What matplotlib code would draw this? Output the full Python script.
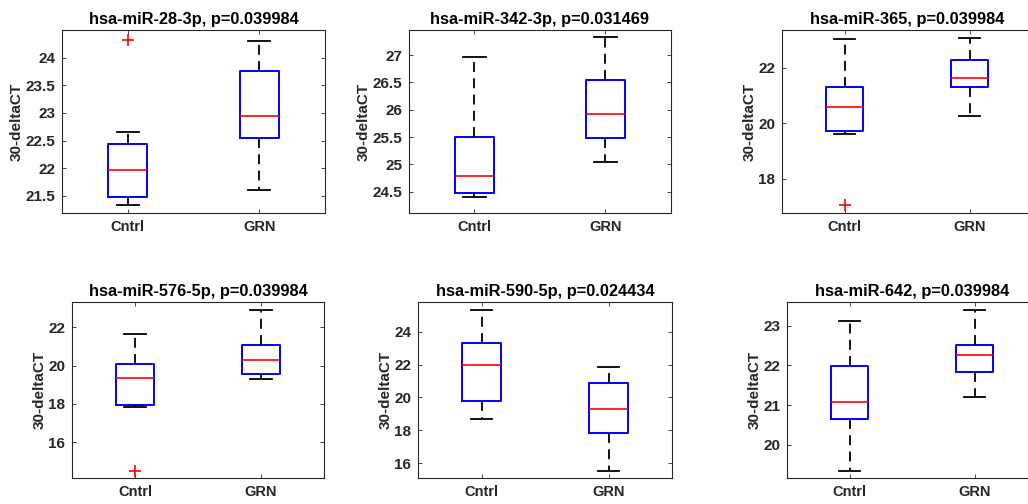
import matplotlib
matplotlib.use("Agg")
import matplotlib.pyplot as plt
from matplotlib.ticker import FormatStrFormatter

# Panel titles and p-values
mirnas = ["hsa-miR-28-3p", "hsa-miR-342-3p", "hsa-miR-365",
          "hsa-miR-576-5p", "hsa-miR-590-5p", "hsa-miR-642"]
pvals = ["0.039984", "0.031469", "0.039984", "0.039984", "0.024434", "0.039984"]
groups = ["Cntrl", "GRN"]

# Box statistics: whislo, q1, median, q3, whishi
cntrl_stats = [
    [21.33, 21.48, 21.96, 22.43, 22.66],
    [24.40, 24.48, 24.78, 25.51, 26.96],
    [19.61, 19.71, 20.58, 21.30, 23.03],
    [17.83, 17.95, 19.37, 20.07, 21.67],
    [18.70, 19.77, 21.98, 23.31, 25.30],
    [19.34, 20.66, 21.08, 21.98, 23.11],
]
grn_stats = [
    [21.61, 22.54, 22.95, 23.76, 24.31],
    [25.05, 25.49, 25.92, 26.54, 27.33],
    [20.27, 21.29, 21.61, 22.26, 23.08],
    [19.32, 19.55, 20.29, 21.09, 22.89],
    [15.55, 17.83, 19.32, 20.90, 21.84],
    [21.21, 21.83, 22.27, 22.51, 23.39],
]
cntrl_outliers = [[24.32], [], [17.06], [14.52], [], []]
grn_outliers = [[], [], [], [], [], []]

ylims = [(21.19, 24.50), (24.11, 27.46), (16.77, 23.35),
         (14.14, 23.32), (15.11, 25.80), (19.16, 23.60)]
yticks = [[21.5, 22, 22.5, 23, 23.5, 24],
          [24.5, 25, 25.5, 26, 26.5, 27],
          [18, 20, 22],
          [16, 18, 20, 22],
          [16, 18, 20, 22, 24],
          [20, 21, 22, 23]]

W, H = 1028, 504
# axes rectangles in pixels: left, right, top, bottom
boxes_px = [(62, 325, 30, 213), (409, 671, 30, 213), (782, 1032, 30, 213),
            (72, 324, 302, 478), (418, 672, 302, 478), (787, 1037, 302, 478)]

plt.rcParams['font.family'] = ['Liberation Sans', 'DejaVu Sans']
fig = plt.figure(figsize=(W / 100, H / 100), dpi=100)
dark = (0.15, 0.15, 0.15)

def to_stats(s, fl, label):
    return dict(whislo=s[0], q1=s[1], med=s[2], q3=s[3], whishi=s[4],
                fliers=fl, label=label)

for i in range(6):
    l, r, t, b = boxes_px[i]
    ax = fig.add_axes([l / W, 1 - b / H, (r - l) / W, (b - t) / H])
    stats = [to_stats(cntrl_stats[i], cntrl_outliers[i], groups[0]),
             to_stats(grn_stats[i], grn_outliers[i], groups[1])]
    ax.bxp(stats, positions=[1, 2], widths=0.3, capwidths=0.17,
           showfliers=True,
           boxprops=dict(color='blue', linewidth=1.4),
           medianprops=dict(color='red', linewidth=1.2),
           whiskerprops=dict(color='black', linewidth=1.3,
                             linestyle=(0, (5.5, 3.5))),
           capprops=dict(color='black', linewidth=1.3),
           flierprops=dict(marker='+', markeredgecolor='red', markersize=8,
                           markeredgewidth=1.2, linestyle='none'))
    ax.set_xlim(0.5, 2.5)
    ax.set_ylim(*ylims[i])
    ax.set_yticks(yticks[i])
    ax.yaxis.set_major_formatter(FormatStrFormatter('%g'))
    ax.set_xticks([1, 2])
    ax.set_xticklabels(groups, fontsize=10.5, fontweight='bold', color=dark)
    for lab in ax.get_yticklabels():
        lab.set_fontsize(11)
        lab.set_fontweight('bold')
        lab.set_color(dark)
    ax.tick_params(direction='in', length=3, width=0.6, color=dark,
                   top=True, right=True, pad=5)
    for sp in ax.spines.values():
        sp.set_color(dark)
        sp.set_linewidth(0.8)
    ax.set_ylabel("30-deltaCT", fontsize=11, fontweight='bold', color=dark,
                  labelpad=1)
    ax.set_title(f"{mirnas[i]}, p={pvals[i]}", fontsize=11.8, fontweight='bold',
                 pad=4)

fig.savefig("out.png", dpi=100)
